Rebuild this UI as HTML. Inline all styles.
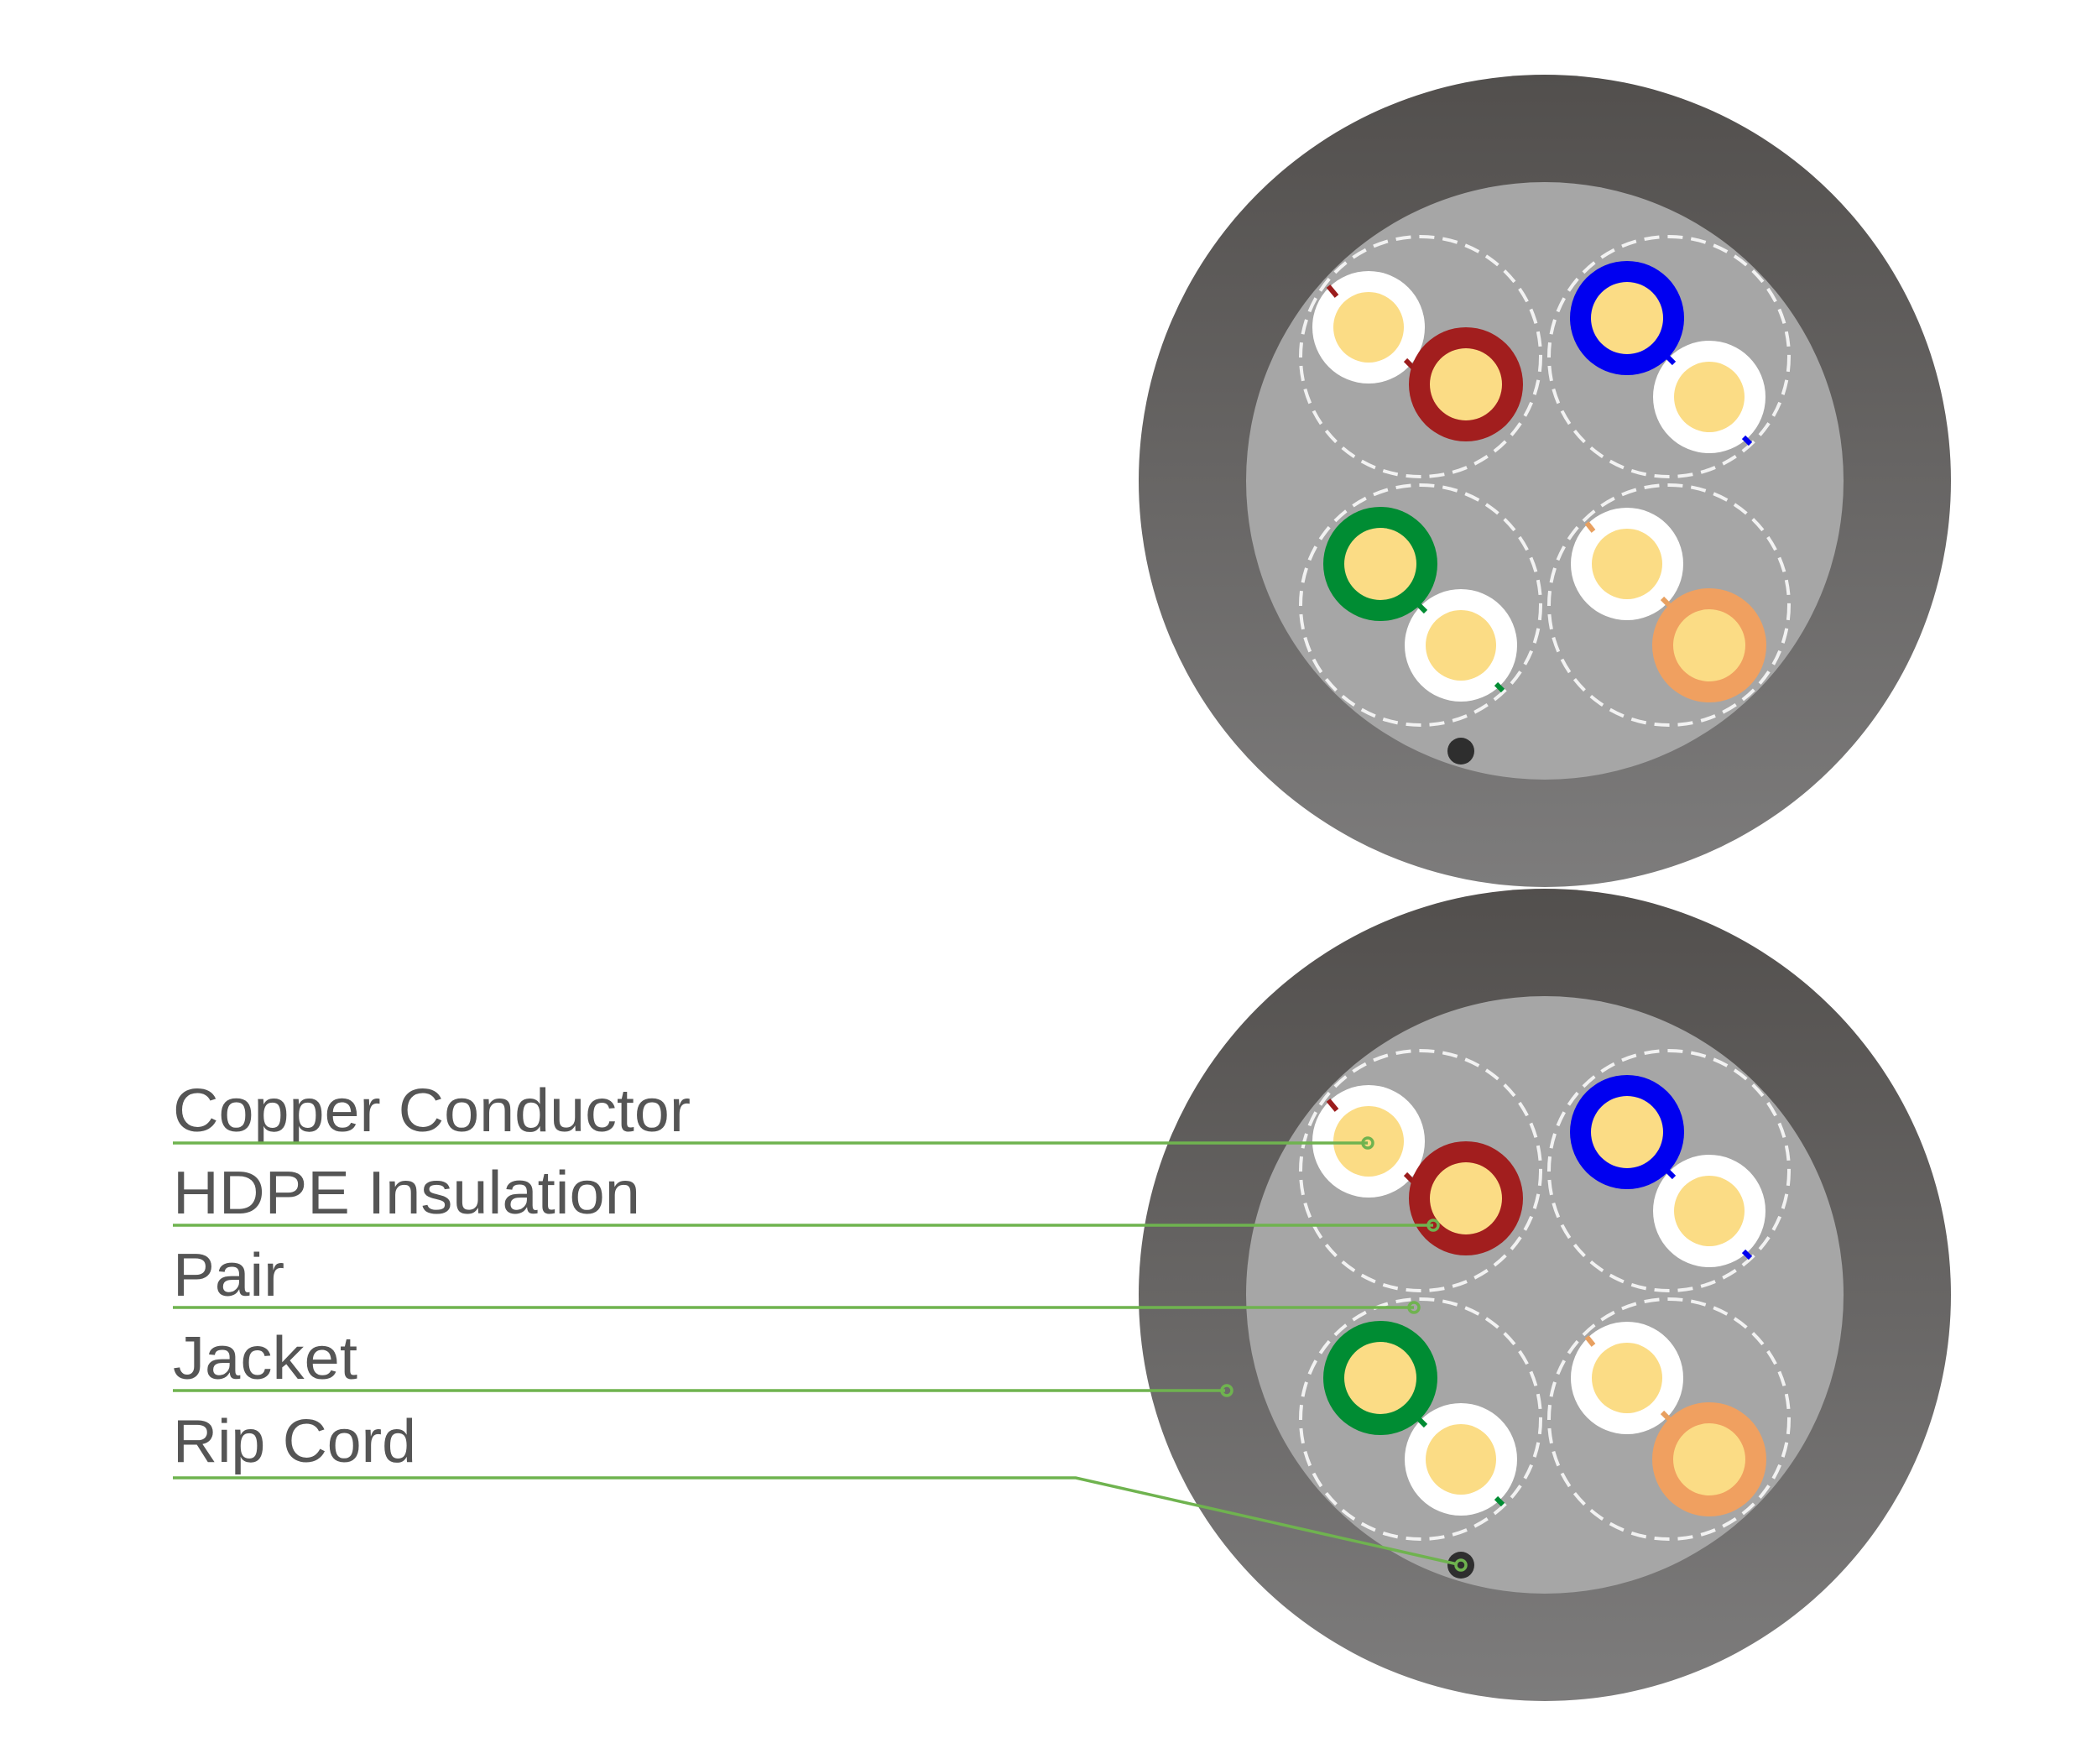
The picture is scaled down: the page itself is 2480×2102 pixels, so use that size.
<!DOCTYPE html>
<html><head><meta charset="utf-8"><style>
html,body{margin:0;padding:0;background:#fff;}
svg{display:block;}
</style></head><body>
<svg width="2480" height="2102" viewBox="0 0 2480 2102" xmlns="http://www.w3.org/2000/svg">
<defs>
<linearGradient id="jk" x1="0" y1="0" x2="0" y2="1">
<stop offset="0" stop-color="#524f4d"/><stop offset="1" stop-color="#7d7c7c"/>
</linearGradient>
<g id="cable">
<circle cx="0" cy="0" r="484" fill="url(#jk)"/>
<circle cx="0" cy="0" r="356" fill="#a6a6a6"/>
<g fill="none" stroke="#f2f2f2" stroke-width="4" stroke-dasharray="18 10">
<circle cx="-148" cy="-148" r="143"/><circle cx="148" cy="-148" r="143"/>
<circle cx="-148" cy="148" r="143"/><circle cx="148" cy="148" r="143"/>
</g>
<circle cx="-210" cy="-183" r="67" fill="#fff"/><circle cx="-210" cy="-183" r="42" fill="#fbdc85"/>
<line x1="-258" y1="-232" x2="-248" y2="-220" stroke="#9b1c1c" stroke-width="6"/>
<line x1="-166" y1="-144" x2="-156" y2="-134" stroke="#9b1c1c" stroke-width="6"/>
<circle cx="-94" cy="-115" r="68" fill="#a21e1e"/><circle cx="-94" cy="-115" r="43" fill="#fbdc85"/>
<circle cx="98" cy="-194" r="68" fill="#0000f0"/><circle cx="98" cy="-194" r="43" fill="#fbdc85"/>
<circle cx="196" cy="-100" r="67" fill="#fff"/><circle cx="196" cy="-100" r="42" fill="#fbdc85"/>
<line x1="146" y1="-148" x2="154" y2="-140" stroke="#0000f0" stroke-width="6"/>
<line x1="237" y1="-52" x2="245" y2="-44" stroke="#0000f0" stroke-width="6"/>
<circle cx="-196" cy="99" r="68" fill="#008c33"/><circle cx="-196" cy="99" r="43" fill="#fbdc85"/>
<circle cx="-100" cy="196" r="67" fill="#fff"/><circle cx="-100" cy="196" r="42" fill="#fbdc85"/>
<line x1="-150" y1="148" x2="-142" y2="156" stroke="#008c33" stroke-width="6"/>
<line x1="-58" y1="242" x2="-50" y2="250" stroke="#008c33" stroke-width="6"/>
<circle cx="98" cy="99" r="67" fill="#fff"/><circle cx="98" cy="99" r="42" fill="#fbdc85"/>
<line x1="50" y1="50" x2="58" y2="60" stroke="#e8a060" stroke-width="6"/>
<line x1="140" y1="140" x2="150" y2="150" stroke="#e8a060" stroke-width="6"/>
<circle cx="196" cy="196" r="68" fill="#f0a060"/><circle cx="196" cy="196" r="43" fill="#fbdc85"/>
<circle cx="-100" cy="322" r="16" fill="#2e2e2e"/>
</g>
</defs>
<use href="#cable" x="1841" y="573"/>
<use href="#cable" x="1841" y="1543"/>
<g font-family="Liberation Sans, sans-serif" font-size="72" fill="#555" lengthAdjust="spacingAndGlyphs">
<text x="206" y="1348" textLength="617" lengthAdjust="spacingAndGlyphs">Copper Conductor</text>
<text x="206" y="1446" textLength="557" lengthAdjust="spacingAndGlyphs">HDPE Insulation</text>
<text x="206" y="1544" textLength="133" lengthAdjust="spacingAndGlyphs">Pair</text>
<text x="206" y="1643" textLength="220" lengthAdjust="spacingAndGlyphs">Jacket</text>
<text x="206" y="1742" textLength="290" lengthAdjust="spacingAndGlyphs">Rip Cord</text>
</g>
<g stroke="#6fb34f" stroke-width="3.5" fill="none">
<polyline points="206,1362 1630,1362"/>
<polyline points="206,1460 1708,1460"/>
<polyline points="206,1558 1685,1558"/>
<polyline points="206,1657 1460,1657"/>
<polyline points="206,1761 1282,1761 1737,1864"/>
<circle cx="1630" cy="1362" r="6"/>
<circle cx="1708" cy="1460" r="6"/>
<circle cx="1685" cy="1558" r="6"/>
<circle cx="1462" cy="1657" r="6"/>
<circle cx="1741" cy="1865" r="6"/>
</g>
</svg>
</body></html>
